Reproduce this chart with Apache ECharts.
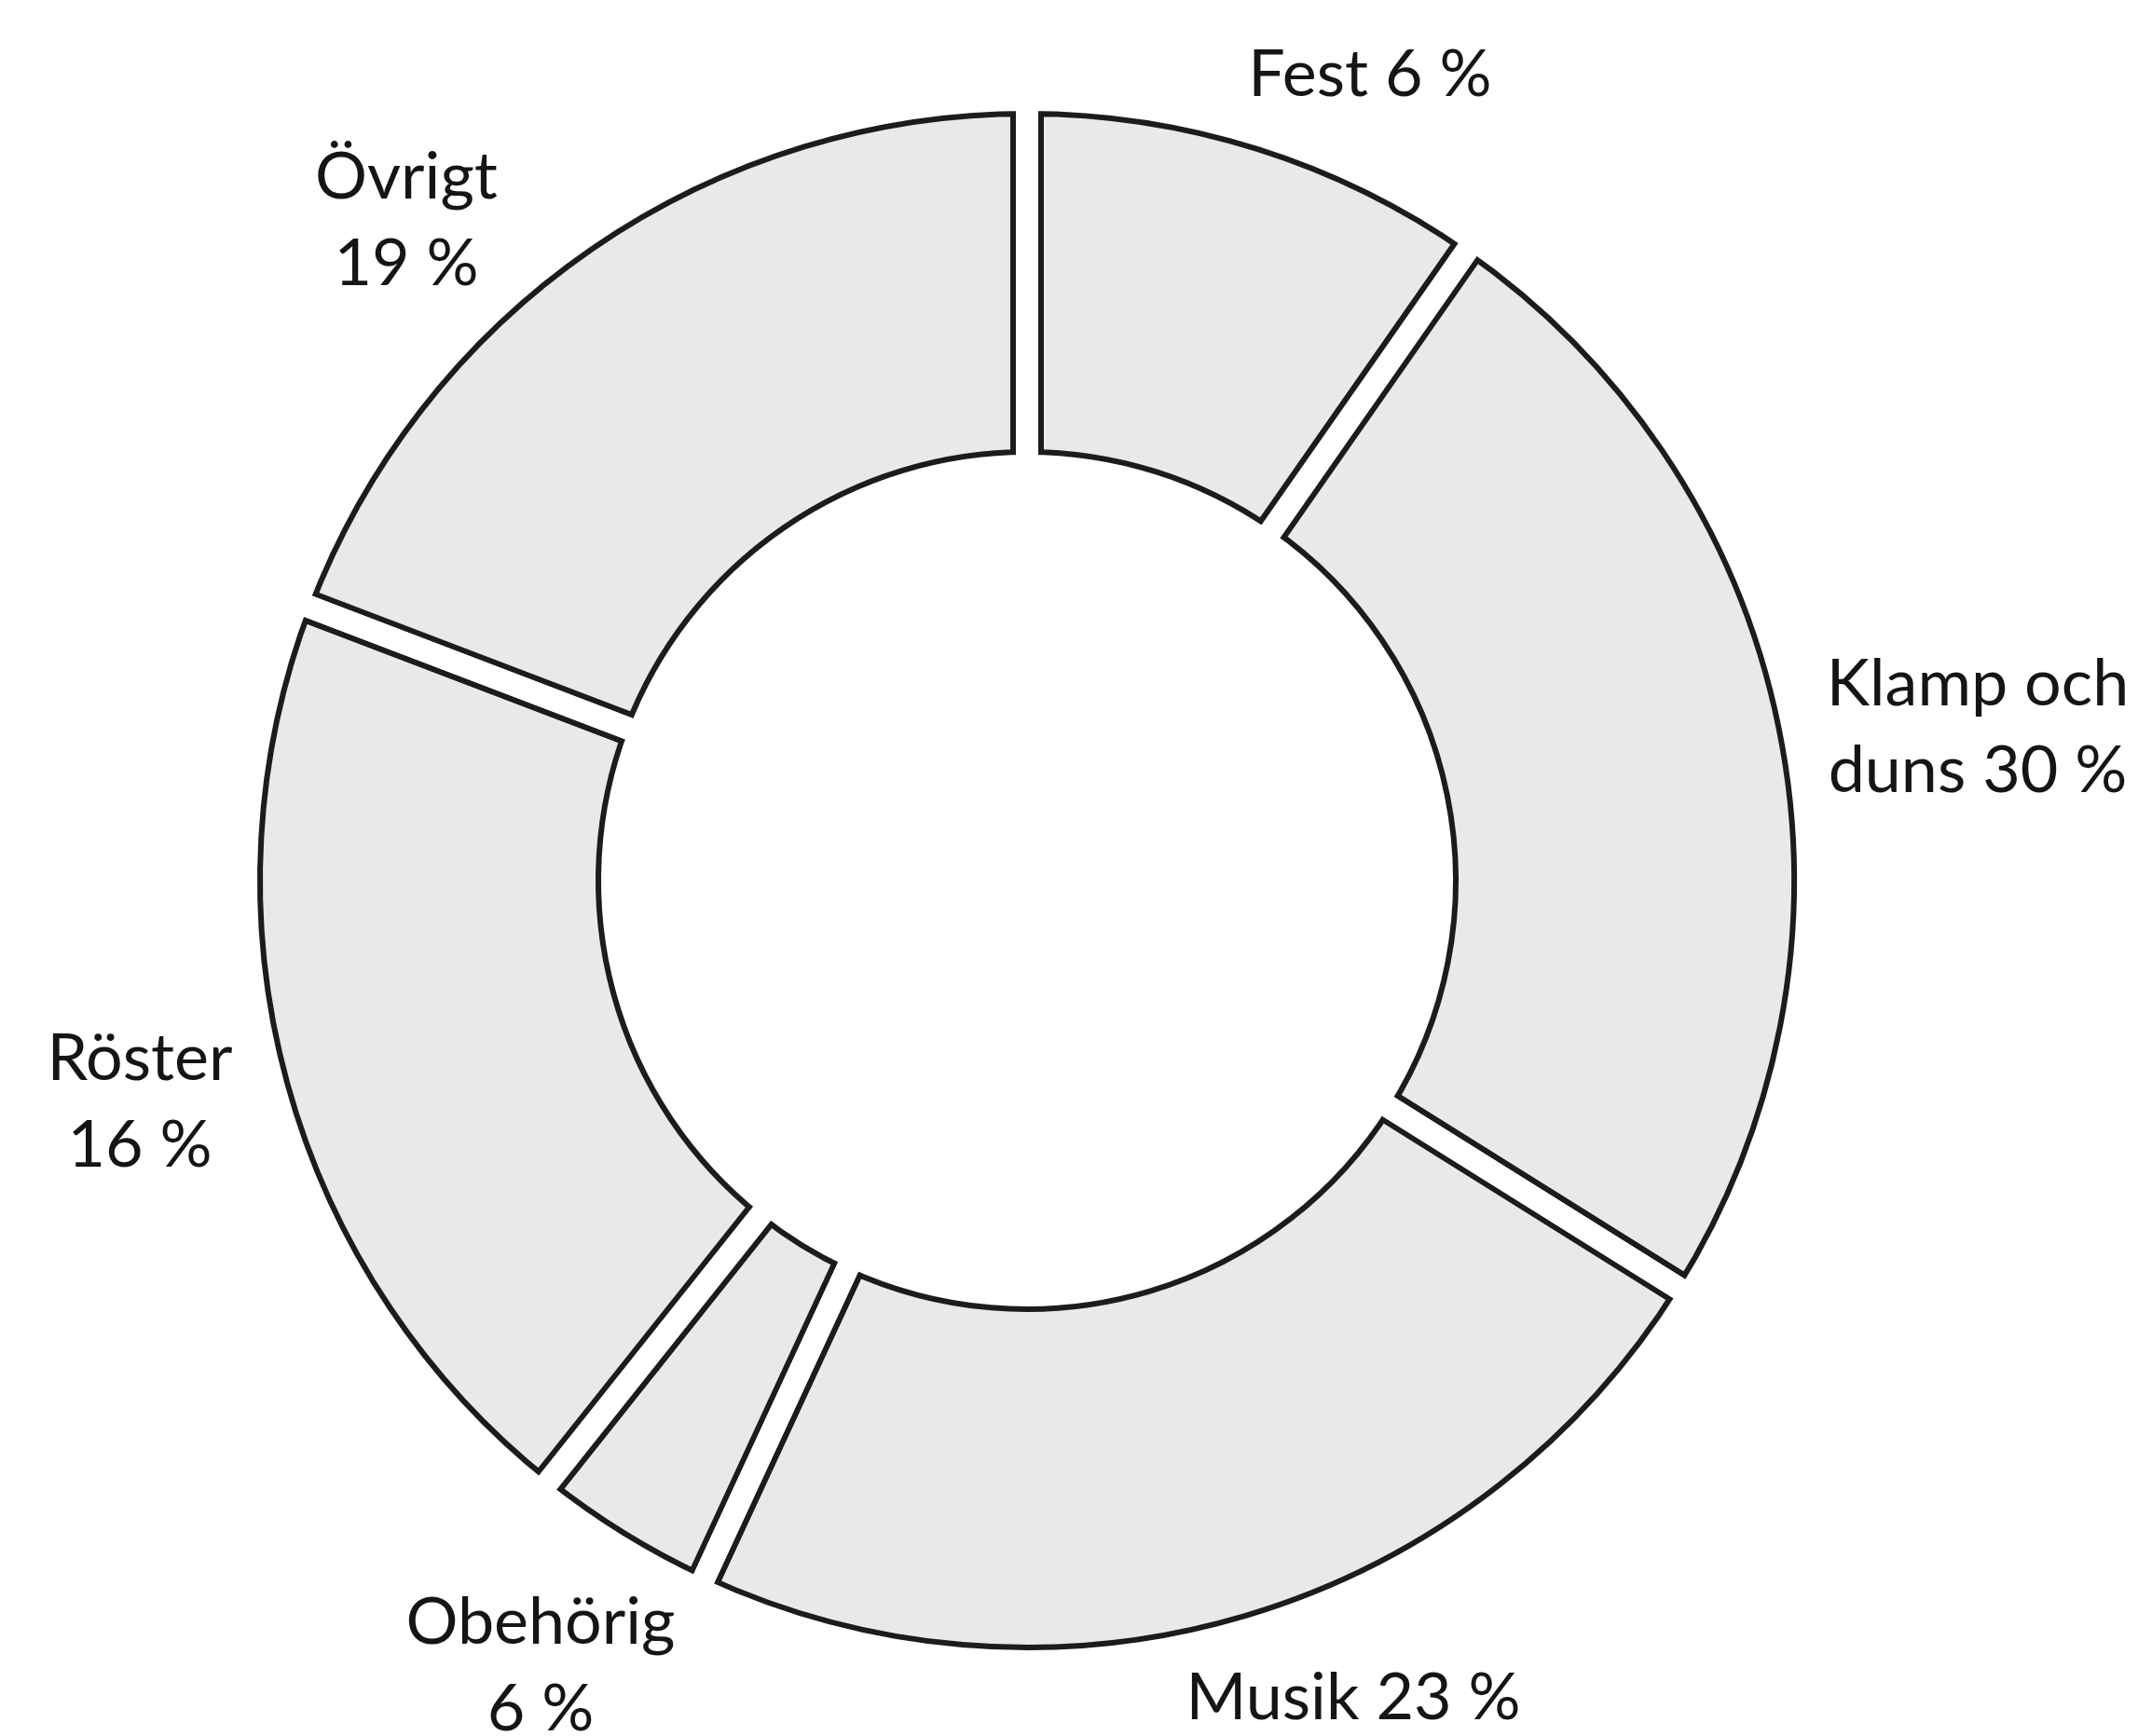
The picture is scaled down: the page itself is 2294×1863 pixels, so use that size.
<!DOCTYPE html>
<html>
<head>
<meta charset="utf-8">
<script src="https://cdn.jsdelivr.net/npm/echarts@6/dist/echarts.min.js"></script>
<style>
  html, body { margin: 0; padding: 0; background: #ffffff; }
  #chart { width: 2294px; height: 1863px; }
</style>
</head>
<body>
<div id="chart"></div>
<script>
// ---- data ----
const categories = ['Fest', 'Klamp och duns', 'Musik', 'Obehörig', 'Röster', 'Övrigt'];
// slice shares as drawn (angle, in percent of the full circle)
const shares = [9.7, 24.2, 23.0, 3.8, 20.1, 19.2];
// printed label percentages
const labelPercents = ['6 %', '30 %', '23 %', '6 %', '16 %', '19 %'];
// printed label texts (line breaks as in the picture)
const labelTexts = ['Fest 6 %', 'Klamp och\nduns 30 %', 'Musik 23 %', 'Obehörig\n6 %', 'Röster\n16 %', 'Övrigt\n19 %'];

// ---- layout ----
const CX = 1102, CY = 945;
const GAP = 24;       // white gap between slices
const LINE = 6;       // black outline width
const R_OUT = 838;    // path radius (visible outline lies GAP/2 inside)
const R_IN = 445;
const labelPos = [
  [1470, 80], [2122, 781], [1452, 1822], [580, 1788], [150, 1183], [436, 237]
];

const pieData = categories.map((c, i) => ({ name: c, value: shares[i] }));

const chart = echarts.init(document.getElementById('chart'), null, { renderer: 'canvas' });

const common = {
  type: 'pie',
  center: [CX, CY],
  startAngle: 90,
  clockwise: true,
  silent: true,
  animation: false,
  avoidLabelOverlap: false,
  emphasis: { disabled: true },
  labelLine: { show: false }
};

chart.setOption({
  backgroundColor: '#ffffff',
  animation: false,
  series: [
    Object.assign({}, common, {
      name: 'base',
      radius: [R_IN, R_OUT],
      data: pieData,
      label: { show: false },
      itemStyle: {
        color: '#e9e9e9',
        borderColor: '#1c1c1c',
        borderWidth: GAP + 2 * LINE,
        borderJoin: 'miter'
      }
    }),
    Object.assign({}, common, {
      name: 'outerCover',
      radius: [R_OUT, R_OUT + 70],
      data: [{ name: 'o', value: 1 }],
      label: { show: false },
      itemStyle: { color: '#ffffff', borderWidth: 0 }
    }),
    Object.assign({}, common, {
      name: 'innerCover',
      radius: [R_IN - 70, R_IN],
      data: [{ name: 'i', value: 1 }],
      label: { show: false },
      itemStyle: { color: '#ffffff', borderWidth: 0 }
    }),
    Object.assign({}, common, {
      name: 'gaps',
      radius: [R_IN, R_OUT],
      data: pieData,
      itemStyle: {
        color: 'rgba(0,0,0,0)',
        borderColor: '#ffffff',
        borderWidth: GAP,
        borderJoin: 'miter'
      },
      label: {
        show: true,
        position: 'outside',
        formatter: (p) => labelTexts[p.dataIndex],
        fontFamily: 'Lato',
        fontSize: 70,
        lineHeight: 93,
        color: '#151515',
        align: 'center'
      },
      labelLayout: (params) => {
        const p = labelPos[params.dataIndex];
        return { x: p[0], y: p[1], align: 'center', verticalAlign: 'middle' };
      }
    })
  ]
});
</script>
</body>
</html>
